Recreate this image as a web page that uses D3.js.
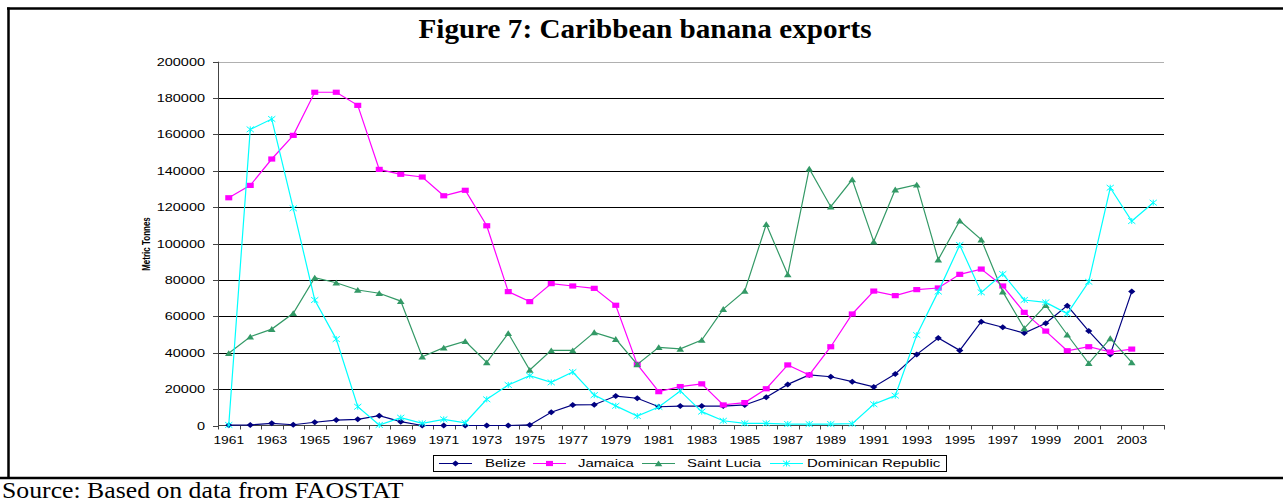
<!DOCTYPE html>
<html>
<head>
<meta charset="utf-8">
<script src="https://cdn.jsdelivr.net/npm/d3@7"></script>
<style>
  html, body { margin: 0; padding: 0; background: #fff; }
  svg { display: block; }
</style>
</head>
<body>
<script>
// Banana exports (metric tonnes), FAOSTAT
const years = d3.range(1961, 2005);
const xTickYears = d3.range(1961, 2004, 2);
const yTicks = [0, 20000, 40000, 60000, 80000, 100000, 120000, 140000, 160000, 180000, 200000];

const belize = [200, 300, 1200, 400, 1800, 3000, 3400, 5400, 2100, 0,
  0, 0, 0, 0, 300, 7300, 11300, 11400, 16200, 15000,
  10300, 10700, 10700, 10700, 11300, 15500, 22600, 27800, 26800, 24100,
  21200, 28300, 39100, 48100, 41300, 57100, 54000, 50800, 56200, 65900,
  51900, 39100, 73600, null];

const jamaica = [125200, 132000, 146500, 159500, 183200, 183200, 176000, 140800, 138100, 136600,
  126300, 129300, 109800, 73600, 68100, 78000, 76700, 75400, 66100, 33600,
  18600, 21400, 22900, 11300, 12600, 20200, 33300, 27800, 43300, 61300,
  73900, 71400, 74700, 75600, 83100, 86000, 76700, 62200, 51900, 41100,
  43300, 40400, 42000, null];

const saintLucia = [39700, 48800, 53000, 61700, 81250, 78500, 74500, 72700, 68400, 37800,
  42800, 46300, 34700, 50700, 30500, 41300, 41300, 51200, 47500, 33600,
  43000, 42100, 47000, 64000, 74000, 110600, 83000, 141200, 120300, 135200,
  101100, 129700, 132400, 91200, 112600, 102200, 73600, 53400, 66200, 49900,
  34200, 47900, 34700, null];

const dominicanRep = [300, 162800, 168500, 119400, 69000, 47500, 10300, 300, 4300, 1200,
  3400, 1500, 14400, 22300, 27400, 23700, 29400, 16700, 10800, 5200,
  10200, 19000, 7600, 2600, 1200, 1200, 800, 800, 800, 1000,
  11700, 16400, 49700, 73600, 99200, 73200, 83300, 69000, 67700, 61500,
  79000, 130700, 112400, 122500];

const seriesNames = ["Belize", "Jamaica", "Saint Lucia", "Dominican Republic"];
const seriesValues = [belize, jamaica, saintLucia, dominicanRep];
const seriesColors = ["#000080", "#ff00ff", "#339966", "#00ffff"];
const seriesMarkers = ["diamond", "square", "triangle", "star"];

const W = 1283, H = 502;
const plot = { left: 218, right: 1164, top: 61.7, bottom: 425.5 };
const SX = 1.45; // horizontal stretch of the chart's lettering

const svg = d3.select("body").append("svg")
  .attr("width", W).attr("height", H)
  .style("font-family", "'Liberation Sans', Arial, sans-serif");

const x = d3.scaleBand().domain(years).range([plot.left, plot.right]).paddingInner(0).paddingOuter(0);
const y = d3.scaleLinear().domain([0, 200000]).range([plot.bottom, plot.top]);
const cx = yr => x(yr) + x.bandwidth() / 2;

// page frame
svg.append("line").attr("x1", 7).attr("x2", W).attr("y1", 8.5).attr("y2", 8.5)
  .attr("stroke", "#000").attr("stroke-width", 2.5);
svg.append("line").attr("x1", 8.5).attr("x2", 8.5).attr("y1", 7.5).attr("y2", 478)
  .attr("stroke", "#000").attr("stroke-width", 2.5);
svg.append("line").attr("x1", 0).attr("x2", W).attr("y1", 478).attr("y2", 478)
  .attr("stroke", "#000").attr("stroke-width", 2.5);

// title
svg.append("text")
  .attr("transform", "translate(645,38) scale(1.08,1)")
  .attr("text-anchor", "middle")
  .style("font-family", "'Liberation Serif', 'Times New Roman', serif")
  .style("font-weight", "bold")
  .style("font-size", "27px")
  .text("Figure 7: Caribbean banana exports");

// source note
svg.append("text")
  .attr("transform", "translate(2,498) scale(1.12,1)")
  .style("font-family", "'Liberation Serif', 'Times New Roman', serif")
  .style("font-size", "23px")
  .text("Source: Based on data from FAOSTAT");

// gridlines
const grid = svg.append("g");
grid.selectAll("line").data(yTicks.filter(d => d > 0)).join("line")
  .attr("x1", plot.left).attr("x2", plot.right)
  .attr("y1", d => Math.round(y(d)) + 0.5).attr("y2", d => Math.round(y(d)) + 0.5)
  .attr("stroke", d => d === 200000 ? "#b0b0b0" : "#000")
  .attr("stroke-width", 1);

// stretched text helper
function stretchedText(g, tx, ty, str, anchor, size, sx) {
  return g.append("text")
    .attr("transform", `translate(${tx},${ty}) scale(${sx},1)`)
    .attr("text-anchor", anchor)
    .style("font-size", size + "px")
    .attr("fill", "#000")
    .text(str);
}

// y axis
const yAxis = svg.append("g");
yAxis.append("line").attr("x1", plot.left + 0.5).attr("x2", plot.left + 0.5)
  .attr("y1", plot.top).attr("y2", plot.bottom).attr("stroke", "#444");
yTicks.forEach(t => {
  const ty = Math.round(y(t)) + 0.5;
  yAxis.append("line").attr("x1", plot.left - 5).attr("x2", plot.left)
    .attr("y1", ty).attr("y2", ty).attr("stroke", "#444");
  stretchedText(yAxis, 205, ty + 3.5, d3.format("d")(t), "end", 10, SX);
});

// y axis title
svg.append("text")
  .attr("transform", `translate(150,244) rotate(-90) scale(1,1.45)`)
  .attr("text-anchor", "middle")
  .style("font-size", "8px")
  .style("font-weight", "bold")
  .text("Metric Tonnes");

// x axis
const xAxis = svg.append("g");
xAxis.append("line").attr("x1", plot.left).attr("x2", plot.right + 1)
  .attr("y1", plot.bottom).attr("y2", plot.bottom).attr("stroke", "#444");
years.concat([2005]).forEach((yr, i) => {
  const tx = Math.round(plot.left + i * x.bandwidth()) + 0.5;
  xAxis.append("line").attr("x1", tx).attr("x2", tx)
    .attr("y1", plot.bottom).attr("y2", plot.bottom + 4).attr("stroke", "#444");
});
xTickYears.forEach(yr => {
  stretchedText(xAxis, cx(yr), 443.5, String(yr), "middle", 10, 1.38);
});

// marker shapes (drawn a bit wider than tall, like the rest of the chart)
function drawMarker(g, type, px, py, color) {
  if (type === "diamond") {
    g.append("path").attr("d", `M${px - 3.6},${py} L${px},${py - 3} L${px + 3.6},${py} L${px},${py + 3} Z`)
      .attr("fill", color);
  } else if (type === "square") {
    g.append("rect").attr("x", px - 3.5).attr("y", py - 2.6).attr("width", 7).attr("height", 5.2)
      .attr("fill", color);
  } else if (type === "triangle") {
    g.append("path").attr("d", `M${px - 3.8},${py + 2.8} L${px},${py - 3} L${px + 3.8},${py + 2.8} Z`)
      .attr("fill", color);
  } else if (type === "star") {
    g.append("path").attr("d",
      `M${px - 3.6},${py - 2.8} L${px + 3.6},${py + 2.8} M${px - 3.6},${py + 2.8} L${px + 3.6},${py - 2.8} M${px},${py - 3} L${px},${py + 3}`)
      .attr("stroke", color).attr("stroke-width", 1).attr("fill", "none");
  }
}

// series
const line = d3.line()
  .defined(d => d.v !== null)
  .x(d => cx(d.yr))
  .y(d => y(d.v));

seriesValues.forEach((vals, si) => {
  const pts = years.map((yr, i) => ({ yr, v: vals[i] === undefined ? null : vals[i] }));
  const g = svg.append("g");
  g.append("path").datum(pts).attr("d", line)
    .attr("fill", "none").attr("stroke", seriesColors[si]).attr("stroke-width", 1.2);
  pts.filter(d => d.v !== null).forEach(d => drawMarker(g, seriesMarkers[si], cx(d.yr), y(d.v), seriesColors[si]));
});

// legend
const legend = svg.append("g");
legend.append("rect").attr("x", 433.5).attr("y", 455.5).attr("width", 513).attr("height", 16)
  .attr("fill", "#fff").attr("stroke", "#000").attr("stroke-width", 1);
const legendItems = [
  { lineX: 439, textX: 485 },
  { lineX: 533, textX: 578 },
  { lineX: 642, textX: 687 },
  { lineX: 770, textX: 807 }
];
legendItems.forEach((it, i) => {
  const ly = 463.5;
  legend.append("line").attr("x1", it.lineX).attr("x2", it.lineX + 33)
    .attr("y1", ly).attr("y2", ly).attr("stroke", seriesColors[i]).attr("stroke-width", 1.2);
  drawMarker(legend, seriesMarkers[i], it.lineX + 16.5, ly, seriesColors[i]);
  stretchedText(legend, it.textX, ly + 3.5, seriesNames[i], "start", 10, 1.5);
});
</script>
</body>
</html>
